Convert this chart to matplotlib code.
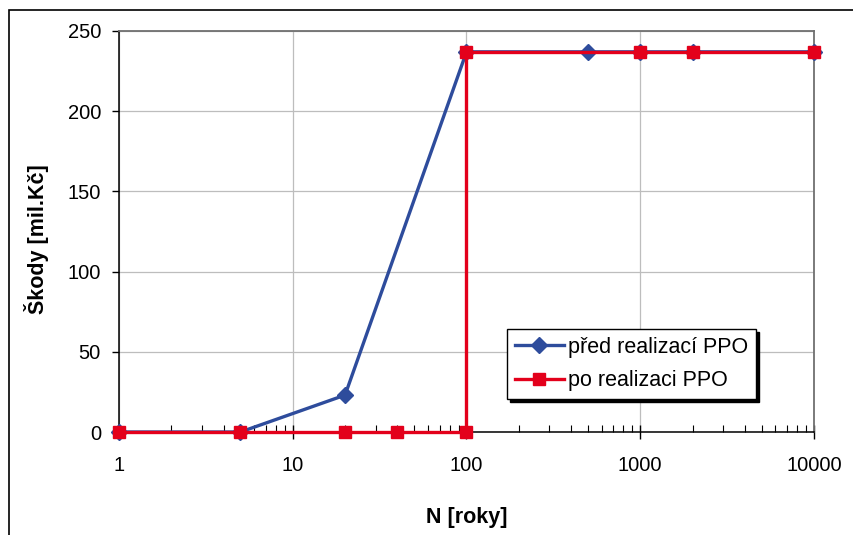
import matplotlib
matplotlib.use("Agg")
import matplotlib.pyplot as plt
from matplotlib.patches import Rectangle
from matplotlib.ticker import FixedLocator, LogLocator, NullFormatter

plt.rcParams['font.family'] = ['Liberation Sans', 'DejaVu Sans']

# Data
before_x = [1, 5, 20, 100, 500, 1000, 2000, 10000]
before_y = [0, 0, 23, 237, 237, 237, 237, 237]
after_x = [1, 5, 20, 40, 100, 100, 1000, 2000, 10000]
after_y = [0, 0, 0, 0, 0, 237, 237, 237, 237]
labels = ["před realizací PPO", "po realizaci PPO"]
x_ticks = [1, 10, 100, 1000, 10000]
x_ticklabels = ["1", "10", "100", "1000", "10000"]
y_ticks = [0, 50, 100, 150, 200, 250]

W, H = 854, 535
fig = plt.figure(figsize=(W / 100, H / 100), dpi=100)

# outer border
fig.patches.append(Rectangle((9 / W, -0.05), 1.2, 1 - 10 / H + 0.05,
                             transform=fig.transFigure, fill=False,
                             edgecolor='black', linewidth=1.2, zorder=0))

ax = fig.add_axes([119 / W, 1 - 432 / H, (814 - 119) / W, (432 - 31) / H])
ax.set_xscale('log')
ax.set_xlim(1, 10000)
ax.set_ylim(0, 250)

ax.plot(before_x, before_y, color='#2E4C9C', linewidth=2.4, marker='D',
        markersize=8.5, label=labels[0], zorder=3, clip_on=False)
ax.plot(after_x, after_y, color='#E3001B', linewidth=2.4, marker='s',
        markersize=8, label=labels[1], zorder=4, clip_on=False)

ax.xaxis.set_major_locator(FixedLocator(x_ticks))
ax.set_xticklabels(x_ticklabels)
ax.xaxis.set_minor_locator(LogLocator(base=10, subs=range(2, 10)))
ax.xaxis.set_minor_formatter(NullFormatter())
ax.set_yticks(y_ticks)

ax.grid(True, which='major', color='#BDBDBD', linewidth=0.9)
ax.set_axisbelow(True)

ax.tick_params(axis='x', which='major', direction='inout', length=10,
               width=1, labelsize=14.5, pad=12)
ax.tick_params(axis='x', which='minor', direction='in', length=5, width=0.8)
ax.tick_params(axis='y', which='major', direction='out', length=5,
               width=1, labelsize=14.5, pad=8)

for s in ['left', 'bottom']:
    ax.spines[s].set_color('black')
    ax.spines[s].set_linewidth(1.1)
for s in ['top', 'right']:
    ax.spines[s].set_color('#707070')
    ax.spines[s].set_linewidth(1.3)

ax.set_xlabel("N [roky]", fontsize=15.5, fontweight='bold')
ax.set_ylabel("Škody [mil.Kč]", fontsize=15.5, fontweight='bold')
ax.xaxis.set_label_coords(0.5, -0.187)
ax.yaxis.set_label_coords(-0.101, 0.481)

leg = ax.legend(loc='upper left', bbox_to_anchor=(507 / W, 1 - 329 / H),
                bbox_transform=fig.transFigure, fontsize=15.5, frameon=True,
                fancybox=False, shadow={'color': 'black', 'alpha': 1},
                edgecolor='black', borderpad=0.35, handlelength=2.3,
                handletextpad=0.2, labelspacing=0.6, borderaxespad=0)
leg.get_frame().set_linewidth(1.0)

fig.savefig("out.png", dpi=100)
